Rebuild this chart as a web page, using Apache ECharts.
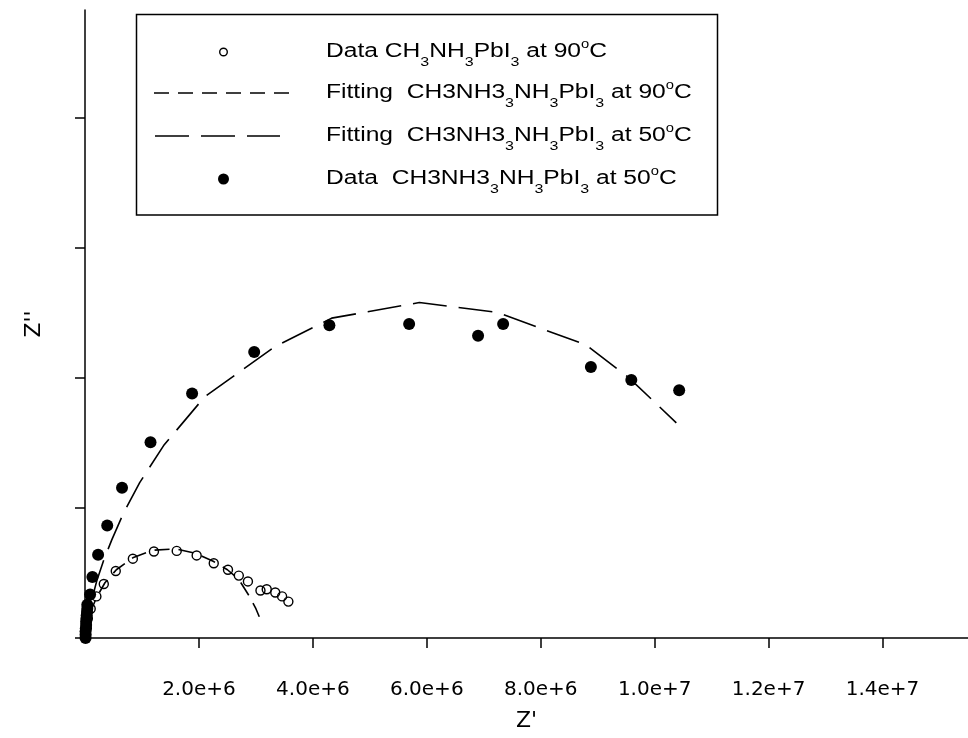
<!DOCTYPE html>
<html>
<head>
<meta charset="utf-8">
<title>Nyquist plot</title>
<script src="https://cdn.jsdelivr.net/npm/echarts@6/dist/echarts.min.js"></script>
<style>
  html, body { margin: 0; padding: 0; background: #fff; }
  #chart { width: 968px; height: 738px; }
</style>
</head>
<body>
<div id="chart"></div>
<script>
// Impedance data, Z' and Z'' in ohms (x, y pairs)
const data90 = [
  [0.02e6, 0.05e6], [0.03e6, 0.15e6], [0.05e6, 0.30e6], [0.10e6, 0.45e6],
  [0.20e6, 0.64e6], [0.33e6, 0.83e6], [0.54e6, 1.03e6], [0.84e6, 1.22e6],
  [1.21e6, 1.33e6], [1.61e6, 1.34e6], [1.96e6, 1.27e6], [2.26e6, 1.15e6],
  [2.51e6, 1.05e6], [2.70e6, 0.96e6], [2.86e6, 0.87e6], [3.08e6, 0.73e6],
  [3.19e6, 0.75e6], [3.34e6, 0.70e6], [3.46e6, 0.64e6], [3.57e6, 0.56e6]
];
const fit90 = [
  [0, 0], [0.02e6, 0.10e6], [0.06e6, 0.25e6], [0.12e6, 0.45e6], [0.20e6, 0.62e6],
  [0.35e6, 0.85e6], [0.55e6, 1.05e6], [0.85e6, 1.24e6], [1.20e6, 1.35e6],
  [1.60e6, 1.37e6], [1.95e6, 1.30e6], [2.25e6, 1.18e6], [2.50e6, 1.05e6],
  [2.70e6, 0.90e6], [2.88e6, 0.65e6], [3.00e6, 0.45e6], [3.12e6, 0.20e6]
];
const data50 = [
  [0.01e6, 0.00e6], [0.01e6, 0.05e6], [0.01e6, 0.10e6], [0.015e6, 0.15e6],
  [0.02e6, 0.20e6], [0.02e6, 0.25e6], [0.025e6, 0.30e6], [0.03e6, 0.35e6],
  [0.035e6, 0.40e6], [0.04e6, 0.45e6], [0.04e6, 0.51e6], [0.09e6, 0.67e6],
  [0.13e6, 0.94e6], [0.23e6, 1.28e6], [0.39e6, 1.73e6], [0.65e6, 2.31e6],
  [1.15e6, 3.01e6], [1.88e6, 3.76e6], [2.97e6, 4.40e6], [4.29e6, 4.81e6],
  [5.69e6, 4.83e6], [6.90e6, 4.65e6], [7.34e6, 4.83e6], [8.88e6, 4.17e6],
  [9.59e6, 3.97e6], [10.43e6, 3.81e6]
];
const fit50 = [
  [0.01e6, 0], [0.05e6, 0.28e6], [0.12e6, 0.59e6], [0.21e6, 0.89e6],
  [0.33e6, 1.20e6], [0.47e6, 1.51e6], [0.68e6, 1.93e6], [0.96e6, 2.39e6],
  [1.38e6, 2.96e6], [2.10e6, 3.71e6], [3.33e6, 4.48e6], [4.33e6, 4.92e6],
  [5.87e6, 5.16e6], [7.23e6, 5.01e6], [8.79e6, 4.51e6], [9.54e6, 4.01e6],
  [10.38e6, 3.31e6]
];

// Axis ticks
const xTickValues = [2e6, 4e6, 6e6, 8e6, 10e6, 12e6, 14e6];
const yTickValues = [0, 2e6, 4e6, 6e6, 8e6];

// Legend entries (rich-text markup: s = subscript, o = degree superscript)
const legendLabels = [
  'Data CH{s|3}NH{s|3}PbI{s|3} at 90{o|o}C',
  'Fitting  CH3NH3{s|3}NH{s|3}PbI{s|3} at 90{o|o}C',
  'Fitting  CH3NH3{s|3}NH{s|3}PbI{s|3} at 50{o|o}C',
  'Data  CH3NH3{s|3}NH{s|3}PbI{s|3} at 50{o|o}C'
];

const FONT = '"Liberation Sans", Arial, sans-serif';
const TICK_FONT = '"DejaVu Sans", sans-serif';
const dash90 = [15, 9];
const dash50 = [34, 12];

const chart = echarts.init(document.getElementById('chart'), null, { renderer: 'canvas' });

const richStyles = {
  s: { fontSize: 13, fontFamily: FONT, color: '#000', padding: [22, 0, 0, 0] },
  o: { fontSize: 12, fontFamily: FONT, color: '#000', padding: [0, 0, 13, 0] }
};

const rowY = [52, 93, 136, 179];
const legendGraphics = [
  {
    type: 'rect',
    shape: { x: 136.5, y: 14.5, width: 581, height: 200.5 },
    style: { fill: '#fff', stroke: '#000', lineWidth: 1.5 },
    z: 10
  },
  {
    type: 'circle',
    shape: { cx: 223.5, cy: rowY[0], r: 3.8 },
    style: { fill: '#fff', stroke: '#000', lineWidth: 1.4 },
    z: 11
  },
  {
    type: 'line',
    shape: { x1: 154, y1: rowY[1], x2: 290, y2: rowY[1] },
    style: { stroke: '#000', lineWidth: 1.6, lineDash: dash90 },
    z: 11
  },
  {
    type: 'line',
    shape: { x1: 155, y1: rowY[2], x2: 280, y2: rowY[2] },
    style: { stroke: '#000', lineWidth: 1.6, lineDash: dash50 },
    z: 11
  },
  {
    type: 'circle',
    shape: { cx: 223.5, cy: rowY[3], r: 5.5 },
    style: { fill: '#000', stroke: '#000', lineWidth: 0 },
    z: 11
  }
];
legendLabels.forEach(function (txt, i) {
  legendGraphics.push({
    type: 'text',
    x: 326,
    y: rowY[i] - 1,
    scaleX: 1.23,
    z: 11,
    style: {
      text: txt,
      fontSize: 20,
      fontFamily: FONT,
      fill: '#000',
      verticalAlign: 'middle',
      align: 'left',
      rich: richStyles
    }
  });
});

const option = {
  backgroundColor: '#fff',
  animation: false,
  grid: { left: 85, top: 10, width: 885, height: 628, containLabel: false },
  xAxis: {
    type: 'value',
    min: 0,
    max: 15.5e6,
    name: "Z'",
    nameLocation: 'middle',
    nameGap: 72,
    nameTextStyle: { fontSize: 22, fontFamily: TICK_FONT, color: '#000' },
    axisLine: { show: true, onZero: false, lineStyle: { color: '#000', width: 1.5 } },
    axisTick: { show: true, inside: false, length: 10, lineStyle: { color: '#000', width: 1.5 }, customValues: xTickValues },
    axisLabel: {
      show: true,
      margin: 42,
      fontSize: 20,
      fontFamily: TICK_FONT,
      color: '#000',
      customValues: xTickValues,
      formatter: function (v) { return v.toExponential(1); }
    },
    splitLine: { show: false }
  },
  yAxis: {
    type: 'value',
    min: 0,
    max: 9.66e6,
    name: "Z''",
    nameLocation: 'middle',
    nameGap: 40,
    nameRotate: 90,
    nameTextStyle: { fontSize: 22, fontFamily: TICK_FONT, color: '#000' },
    axisLine: { show: true, onZero: false, lineStyle: { color: '#000', width: 1.5 } },
    axisTick: { show: true, inside: false, length: 10, lineStyle: { color: '#000', width: 1.5 }, customValues: yTickValues },
    axisLabel: { show: false },
    splitLine: { show: false }
  },
  series: [
    {
      name: 'fit90',
      type: 'line',
      data: fit90,
      showSymbol: false,
      symbol: 'none',
      lineStyle: { color: '#000', width: 1.6, type: dash90 },
      z: 2
    },
    {
      name: 'fit50',
      type: 'line',
      data: fit50,
      showSymbol: false,
      symbol: 'none',
      lineStyle: { color: '#000', width: 1.6, type: dash50 },
      z: 2
    },
    {
      name: 'data90',
      type: 'scatter',
      data: data90,
      symbol: 'circle',
      symbolSize: 9,
      itemStyle: { color: 'rgba(0,0,0,0)', borderColor: '#000', borderWidth: 1.4, opacity: 1 },
      z: 3
    },
    {
      name: 'data50',
      type: 'scatter',
      data: data50,
      symbol: 'circle',
      symbolSize: 12,
      itemStyle: { color: '#000', borderColor: '#000', borderWidth: 0, opacity: 1 },
      z: 4
    }
  ],
  graphic: legendGraphics
};

chart.setOption(option);
</script>
</body>
</html>
